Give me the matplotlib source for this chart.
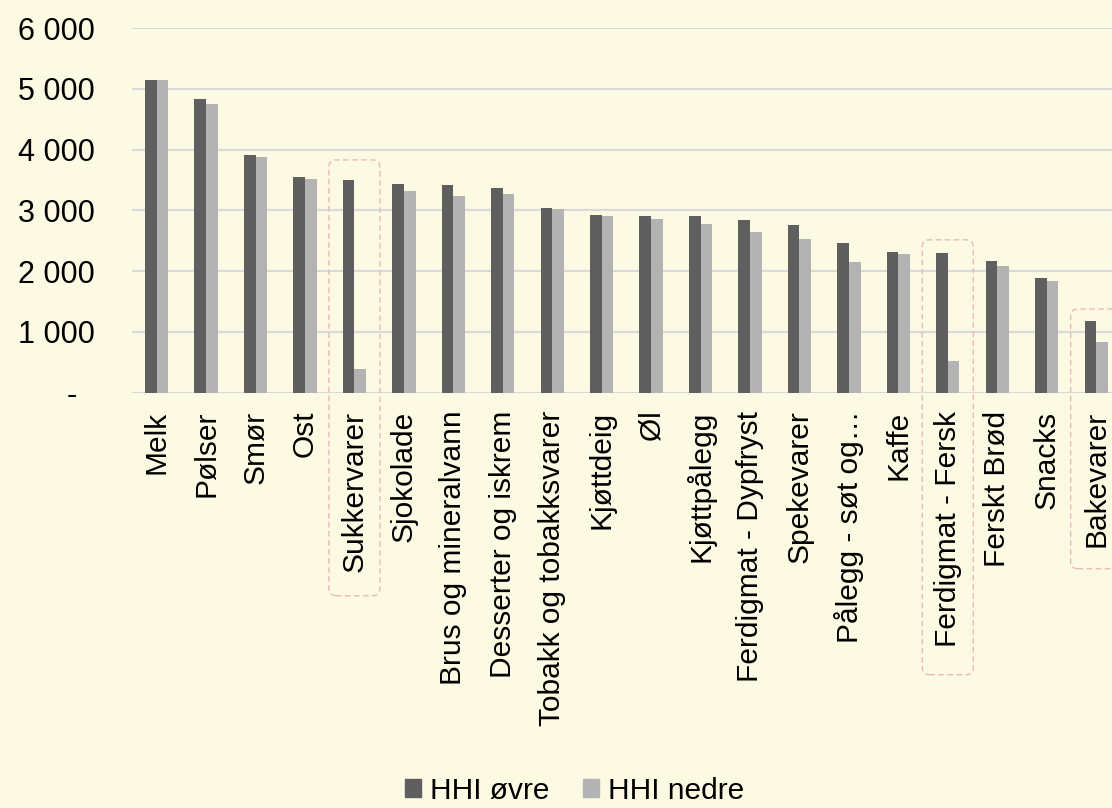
import matplotlib
matplotlib.use("Agg")
import matplotlib.pyplot as plt
import numpy as np
from matplotlib.patches import FancyBboxPatch, Patch
from matplotlib.ticker import FuncFormatter

plt.rcParams["font.family"] = ["Liberation Sans", "DejaVu Sans"]

# ── data ──────────────────────────────────────────────────────────────────────
categories = [
    "Melk", "Pølser", "Smør", "Ost", "Sukkervarer", "Sjokolade",
    "Brus og mineralvann", "Desserter og iskrem", "Tobakk og tobakksvarer",
    "Kjøttdeig", "Øl", "Kjøttpålegg", "Ferdigmat - Dypfryst", "Spekevarer",
    "Pålegg - søt og…", "Kaffe", "Ferdigmat - Fersk", "Ferskt Brød",
    "Snacks", "Bakevarer",
]
hhi_ovre = [5150, 4833, 3918, 3551, 3496, 3430, 3419, 3364, 3041, 2921,
            2910, 2904, 2849, 2756, 2471, 2318, 2301, 2164, 1885, 1173]
hhi_nedre = [5150, 4756, 3874, 3518, 384, 3315, 3244, 3266, 3030, 2910,
             2860, 2773, 2641, 2532, 2148, 2290, 515, 2082, 1841, 833]

# highlighted categories: (name, box top in data units, box bottom in px below axis)
highlights = [("Sukkervarer", 3830, 203), ("Ferdigmat - Fersk", 2515, 282),
              ("Bakevarer", 1376, 176)]

# ── style ─────────────────────────────────────────────────────────────────────
bg = "#FDFAE3"
c_dark = "#5F5F5F"
c_light = "#B3B3B3"
grid_c = "#D9D9D9"
fs = 21.5

fig = plt.figure(figsize=(11.12, 8.08), dpi=100, facecolor=bg)
ax = fig.add_axes([0.1186, 0.514, 0.8814, 0.4513], facecolor=bg)

x = np.arange(len(categories))
w = 0.236
ax.bar(x - w / 2, hhi_ovre, w, color=c_dark, zorder=3, label="HHI øvre")
ax.bar(x + w / 2, hhi_nedre, w, color=c_light, zorder=3, label="HHI nedre")

ax.set_ylim(0, 6000)
ax.set_xlim(-0.5, 19.32)
ax.set_yticks(np.arange(0, 6001, 1000))
ax.yaxis.set_major_formatter(
    FuncFormatter(lambda v, p: "-  " if v == 0 else f"{int(v):,}".replace(",", " "))
)
ax.grid(axis="y", color=grid_c, lw=1.6, zorder=0)
for s in ax.spines.values():
    s.set_visible(False)
ax.axhline(0, color=grid_c, lw=1.8, zorder=2)

ax.set_xticks(x)
ax.set_xticklabels(categories, rotation=90, fontsize=fs, va="top", ha="center")
ax.tick_params(axis="x", length=0, pad=13)
ax.tick_params(axis="y", length=0, pad=27, labelsize=22)

# ── dashed highlight boxes ────────────────────────────────────────────────────
fig.canvas.draw()
dpi = fig.dpi
for name, top_val, bot_px in highlights:
    i = categories.index(name)
    xc, ytop = ax.transData.transform((i, top_val)) / dpi
    _, y0 = ax.transData.transform((i, 0)) / dpi
    ybot = y0 - bot_px / dpi
    half = 0.255
    box = FancyBboxPatch(
        (xc - half, ybot), 2 * half, ytop - ybot,
        boxstyle="round,pad=0,rounding_size=0.07",
        transform=fig.dpi_scale_trans, fill=False,
        edgecolor="#E9B7BE", lw=1.0, ls=(0, (4, 2.5)), zorder=5,
    )
    fig.patches.append(box)

# ── legend ────────────────────────────────────────────────────────────────────
handles = [Patch(color=c_dark), Patch(color=c_light)]
fig.legend(handles, ["HHI øvre", "HHI nedre"], loc="center",
           bbox_to_anchor=(0.5166, 17 / 808), ncol=2, frameon=False,
           fontsize=fs, handlelength=0.55, handleheight=0.55,
           handletextpad=0.3, columnspacing=1.1)

fig.savefig("out.png", dpi=100, facecolor=bg)
